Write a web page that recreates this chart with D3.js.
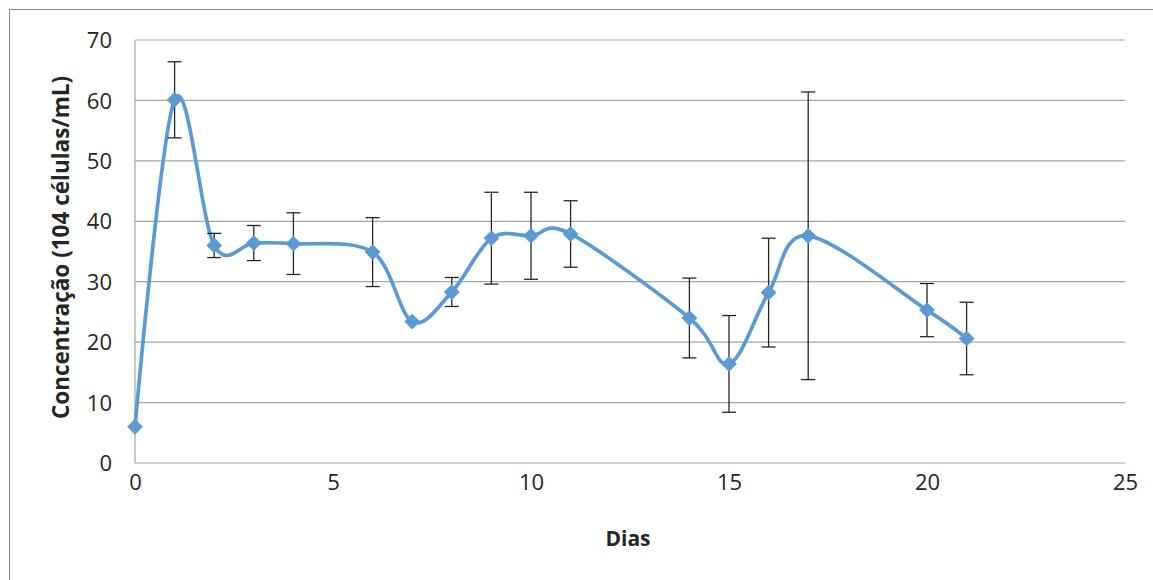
<!DOCTYPE html>
<html>
<head>
<meta charset="utf-8">
<script src="https://cdn.jsdelivr.net/npm/d3@7"></script>
<style>
  body { margin: 0; background: #fff; }
  text { font-family: "Open Sans", "DejaVu Sans", sans-serif; fill: #262626; }
  .grid line { stroke: #a6a6a6; stroke-width: 1.2px; }
  .axis path, .axis line { stroke: #a6a6a6; stroke-width: 1.2px; }
  .axis-label { font-weight: bold; font-size: 21px; }
</style>
</head>
<body>
<div id="chart"></div>
<script>
'use strict';

// days of measurement
var days = [ 0, 1, 2, 3, 4, 6, 7, 8, 9, 10, 11, 14, 15, 16, 17, 20, 21 ];
// mean concentration (10^4 cells/mL)
var concentration = [ 6.0, 60.1, 36.0, 36.4, 36.3, 34.9, 23.4, 28.3, 37.2, 37.6, 37.9, 24.0, 16.4, 28.2, 37.6, 25.3, 20.6 ];
// standard deviation (error bar half-height)
var deviation = [ 0, 6.3, 2.0, 2.9, 5.1, 5.7, 0, 2.4, 7.6, 7.2, 5.5, 6.6, 8.0, 9.0, 23.8, 4.4, 6.0 ];

var xTicks = [ 0, 5, 10, 15, 20, 25 ];
var yTicks = [ 0, 10, 20, 30, 40, 50, 60, 70 ];

var baseWidth = 1153,
    baseHeight = 580,
    margin = { top: 40, right: 28, bottom: 117, left: 135 };

var width = baseWidth - margin.left - margin.right,
    height = baseHeight - margin.top - margin.bottom;

var data = days.map( function( d, i ) {
  return { x: d, y: concentration[i], err: deviation[i] };
} );

var x = d3.scaleLinear()
    .domain( [ 0, 25 ] )
    .range( [ 0, width ] );

var y = d3.scaleLinear()
    .domain( [ 0, 70 ] )
    .range( [ height, 0 ] );

var root = d3.select( '#chart' )
  .append( 'svg' )
    .attr( 'width', baseWidth )
    .attr( 'height', baseHeight );

// chart area border
root.append( 'rect' )
    .attr( 'x', 9.5 )
    .attr( 'y', 9.5 )
    .attr( 'width', 1160 )
    .attr( 'height', 600 )
    .attr( 'fill', 'none' )
    .attr( 'stroke', '#8c8c8c' )
    .attr( 'stroke-width', 1 );

var svg = root.append( 'g' )
    .attr( 'transform', 'translate(' + margin.left + ',' + margin.top + ')' );

// horizontal gridlines
svg.append( 'g' )
    .classed( 'grid', true )
  .selectAll( 'line' )
  .data( yTicks.slice( 1 ) )
  .enter().append( 'line' )
    .attr( 'x1', 0 )
    .attr( 'x2', width )
    .attr( 'y1', function( d ) { return y( d ); } )
    .attr( 'y2', function( d ) { return y( d ); } );

// Y axis
var yAxis = svg.append( 'g' )
    .classed( 'axis axis__y', true )
    .call( d3.axisLeft( y ).tickValues( yTicks ).tickSize( 0 ).tickPadding( 23 ) );
yAxis.selectAll( 'text' )
    .style( 'font-size', '22px' )
    .attr( 'dy', '0.35em' );

// X axis
var xAxis = svg.append( 'g' )
    .classed( 'axis axis__x', true )
    .attr( 'transform', 'translate(0,' + height + ')' )
    .call( d3.axisBottom( x ).tickValues( xTicks ).tickSize( 0 ).tickPadding( 27 ) );
xAxis.selectAll( 'text' )
    .style( 'font-size', '22px' )
    .attr( 'dy', '0' );
xAxis.select( '.domain' ).attr( 'd', 'M0,0H' + width );
yAxis.select( '.domain' ).attr( 'd', 'M0,' + height + 'V0' );

// smoothed line
var line = d3.line()
    .x( function( d ) { return x( d.x ); } )
    .y( function( d ) { return y( d.y ); } )
    .curve( d3.curveCardinal.tension( 0 ) );

svg.append( 'path' )
    .attr( 'd', line( data ) )
    .attr( 'fill', 'none' )
    .attr( 'stroke', '#5b9bd5' )
    .attr( 'stroke-width', 3.7 );

// error bars
var bars = svg.append( 'g' )
  .selectAll( 'g' )
  .data( data.filter( function( d ) { return d.err > 0; } ) )
  .enter().append( 'g' )
    .attr( 'stroke', '#262626' )
    .attr( 'stroke-width', 1.3 );

bars.append( 'line' )
    .attr( 'x1', function( d ) { return x( d.x ); } )
    .attr( 'x2', function( d ) { return x( d.x ); } )
    .attr( 'y1', function( d ) { return y( d.y + d.err ); } )
    .attr( 'y2', function( d ) { return y( d.y - d.err ); } );

[ 1, -1 ].forEach( function( sign ) {
  bars.append( 'line' )
      .attr( 'x1', function( d ) { return x( d.x ) - 7; } )
      .attr( 'x2', function( d ) { return x( d.x ) + 7; } )
      .attr( 'y1', function( d ) { return y( d.y + sign * d.err ); } )
      .attr( 'y2', function( d ) { return y( d.y + sign * d.err ); } );
} );

// diamond markers
svg.append( 'g' )
  .selectAll( 'path' )
  .data( data )
  .enter().append( 'path' )
    .attr( 'd', d3.symbol( d3.symbolSquare, 125 ) )
    .attr( 'transform', function( d ) {
      return 'translate(' + x( d.x ) + ',' + y( d.y ) + ') rotate(45)';
    } )
    .attr( 'fill', '#5b9bd5' );

// axis titles
svg.append( 'text' )
    .classed( 'axis-label', true )
    .attr( 'text-anchor', 'middle' )
    .attr( 'x', x( 12.5 ) - 2 )
    .attr( 'y', height + 83 )
    .text( 'Dias' );

svg.append( 'text' )
    .classed( 'axis-label', true )
    .style( 'font-size', '22.5px' )
    .attr( 'transform', 'rotate(-90)' )
    .attr( 'text-anchor', 'middle' )
    .attr( 'x', -height / 2 + 4 )
    .attr( 'y', -66 )
    .text( 'Concentração (104 células/mL)' );
</script>
</body>
</html>
